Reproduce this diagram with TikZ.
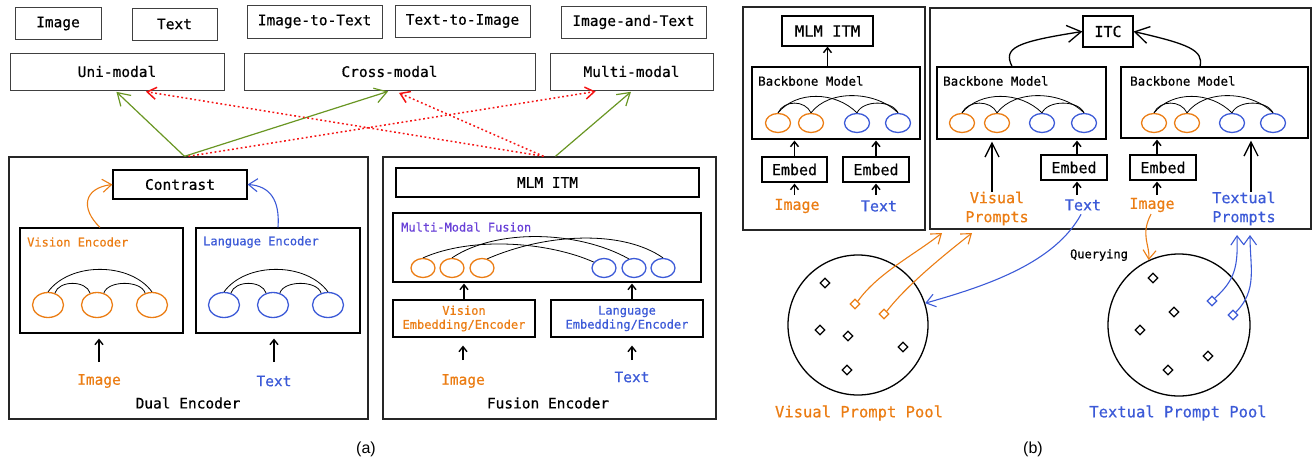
\documentclass[tikz,border=0pt]{standalone}
\usepackage{fontspec}
\setmonofont[FakeBold=0.6]{DejaVu Sans Mono}
\setsansfont{Liberation Sans}
\usetikzlibrary{arrows.meta,shapes.geometric}
\definecolor{cOr}{RGB}{235,125,20}
\definecolor{cBl}{RGB}{60,90,215}
\definecolor{cPu}{RGB}{105,65,215}
\definecolor{cGr}{RGB}{105,150,35}
\definecolor{cRd}{RGB}{245,20,20}
\begin{document}
\begin{tikzpicture}[x=1pt,y=-1pt,
  tbox/.style={draw=black!75, line width=1pt, rectangle, inner sep=0pt, font=\ttfamily\fontsize{14.5}{16}\selectfont},
  bx/.style={draw, line width=1.2pt, rectangle, inner sep=0pt, font=\ttfamily\fontsize{14.5}{16}\selectfont},
  outer/.style={draw=black!85, line width=1.4pt, rectangle, inner sep=0pt},
  lbl/.style={font=\ttfamily\fontsize{14.5}{16}\selectfont, inner sep=0pt},
  blbl/.style={font=\ttfamily\fontsize{15}{19}\selectfont, inner sep=0pt, align=center},
  slbl/.style={font=\ttfamily\fontsize{12}{14}\selectfont, inner sep=0pt, anchor=west},
  tok/.style={ellipse, draw, line width=1.3pt, inner sep=0pt},
  tokO/.style={tok, draw=cOr},
  tokB/.style={tok, draw=cBl},
  link/.style={line width=0.8pt},
  arr/.style={line width=1.4pt, -{Straight Barb[length=5pt,width=8pt]}},
  bigarr/.style={line width=1.3pt, -{Straight Barb[length=14pt,width=14pt]}},
  itcarr/.style={line width=1.3pt, -{Straight Barb[length=14pt,width=17pt]}},
  garr/.style={cGr, line width=1.2pt, -{Straight Barb[length=12pt,width=15pt]}},
  rarr/.style={cRd, line width=1.5pt, dash pattern=on 1.8pt off 2.6pt, -{Straight Barb[length=9pt,width=12pt]}},
  oarr/.style={cOr, line width=1.1pt, -{Straight Barb[length=9pt,width=13pt]}},
  barr/.style={cBl, line width=1.1pt, -{Straight Barb[length=9pt,width=13pt]}},
  dia/.style={diamond, draw, line width=1.2pt, inner sep=0pt, minimum width=10pt, minimum height=10pt},
]
\useasboundingbox (0,0) rectangle (1312,461);

% ---------------- panel (a): top rows
\node[tbox, minimum width=86, minimum height=32] (tImg) at (58,23.5) {Image};
\node[tbox, minimum width=85, minimum height=32] (tTxt) at (174.5,24) {Text};
\node[tbox, minimum width=135, minimum height=33] (tI2T) at (314.5,21.5) {Image-to-Text};
\node[tbox, minimum width=135, minimum height=32] (tT2I) at (462.5,21) {Text-to-Image};
\node[tbox, minimum width=145, minimum height=32] (tIaT) at (633.5,22) {Image-and-Text};
\node[tbox, minimum width=214, minimum height=37] (uni) at (117,71.5) {Uni-modal};
\node[tbox, minimum width=291, minimum height=37] (cross) at (389.5,71.5) {Cross-modal};
\node[tbox, minimum width=163, minimum height=37] (multi) at (631.5,71.5) {Multi-modal};

% ---------------- Dual encoder
\node[outer, minimum width=359, minimum height=262] (dual) at (188.5,288) {};
\node[bx, minimum width=134, minimum height=29] (contrast) at (180,184.5) {Contrast};
\node[bx, minimum width=163, minimum height=105] (venc) at (101.5,280.5) {};
\node[slbl, text=cOr] (vencL) at (27,242) {Vision Encoder};
\node[bx, minimum width=164, minimum height=105] (lenc) at (278,280.5) {};
\node[slbl, text=cBl] (lencL) at (203,242) {Language Encoder};
\node[tokO, minimum width=31, minimum height=25] (v1) at (48,305) {};
\node[tokO, minimum width=31, minimum height=25] (v2) at (97,305) {};
\node[tokO, minimum width=31, minimum height=25] (v3) at (152,305) {};
\node[tokB, minimum width=31, minimum height=25] (l1) at (224,305) {};
\node[tokB, minimum width=31, minimum height=25] (l2) at (273,305) {};
\node[tokB, minimum width=31, minimum height=25] (l3) at (328,305) {};
\foreach \p in {v,l}{
  \draw[link] (\p1.north) .. controls +(22,-30) and +(-22,-30) .. (\p3.north);
  \draw[link] (\p1.60) .. controls +(4,-13) and +(-4,-13) .. (\p2.120);
  \draw[link] (\p2.60) .. controls +(4,-13) and +(-4,-13) .. (\p3.120);
}
\node[lbl, text=cOr] (dImg) at (99,381) {Image};
\node[lbl, text=cBl] (dTxt) at (274,381) {Text};
\node[lbl] (dualL) at (188,403) {Dual Encoder};
\draw[arr, shorten <=19pt, shorten >=5pt] (dImg.center) -- (dImg |- venc.south);
\draw[arr, shorten <=19pt, shorten >=5pt] (dTxt.center) -- (dTxt |- lenc.south);
\draw[oarr] ([xshift=-1.5pt]venc.north) .. controls (80,208) and (84,188) .. (contrast.west);
\draw[barr] (lenc.north) .. controls (280,200) and (270,186) .. (contrast.east);

% ---------------- Fusion encoder
\node[outer, minimum width=333, minimum height=262] (fusion) at (549.5,288) {};
\node[bx, minimum width=303, minimum height=29] (mlmA) at (547.5,182.5) {MLM ITM};
\node[bx, minimum width=308, minimum height=69] (mmf) at (547,247.5) {};
\node[slbl, text=cPu] (mmfL) at (401,227) {Multi-Modal Fusion};
\node[tokO, minimum width=24, minimum height=19] (fo1) at (423,268) {};
\node[tokO, minimum width=24, minimum height=19] (fo2) at (452,268) {};
\node[tokO, minimum width=24, minimum height=19] (fo3) at (482,268) {};
\node[tokB, minimum width=24, minimum height=19] (fb1) at (604,268) {};
\node[tokB, minimum width=24, minimum height=19] (fb2) at (634,268) {};
\node[tokB, minimum width=24, minimum height=19] (fb3) at (663,268) {};
\draw[link] (fo1.north) .. controls +(50,-22) and +(-45,-20) .. (fb1.150);
\draw[link] (fo2.north) .. controls +(45,-30) and +(-50,-28) .. (fb2.120);
\draw[link] (fo3.60) .. controls +(60,-26) and +(-40,-28) .. (fb3.north);
\node[bx, minimum width=142, minimum height=37, text=cOr, align=center, font=\ttfamily\fontsize{12}{14}\selectfont] (vemb) at (464,318.5) {Vision\\Embedding/Encoder};
\node[bx, minimum width=152, minimum height=37, text=cBl, align=center, font=\ttfamily\fontsize{12}{14}\selectfont] (lemb) at (627,318.5) {Language\\Embedding/Encoder};
\coordinate (lembT) at ([xshift=5pt]lemb.north);
\draw[arr, shorten >=1pt] (vemb.north) -- (vemb.north |- mmf.south);
\draw[arr, shorten >=1pt] (lembT) -- (lembT |- mmf.south);
\node[lbl, text=cOr] (fImg) at (463,381) {Image};
\node[lbl, text=cBl] (fTxt) at (632,377) {Text};
\node[lbl] (fusL) at (548,403) {Fusion Encoder};
\draw[arr, shorten <=21pt, shorten >=8pt] (fImg.center) -- (fImg |- vemb.south);
\draw[arr, shorten <=17pt, shorten >=8pt] (fTxt.center) -- (fTxt |- lemb.south);

% ---------------- green / red connectors
\draw[garr, shorten >=2pt] ([xshift=-4pt]dual.north) -- ([xshift=-2pt]uni.south);
\draw[garr, shorten >=3pt] ([xshift=-4pt]dual.north) -- ([xshift=1.5pt]cross.south);
\draw[garr, shorten >=2pt] ([xshift=6pt]fusion.north) -- ([xshift=1pt]multi.south);
\draw[rarr, shorten >=6pt] ([xshift=0pt]dual.north) -- ([xshift=-30pt]multi.south);
\draw[rarr, shorten >=7pt] ([xshift=-6pt]fusion.north) -- ([xshift=22pt]uni.south);
\draw[rarr, shorten >=6pt] ([xshift=-6pt]fusion.north) -- ([xshift=4pt]cross.south);

\node[font=\sffamily\fontsize{16}{18}\selectfont, inner sep=0pt] (capA) at (366,449) {(a)};

% ---------------- panel (b): left box
\node[outer, minimum width=182, minimum height=223] (leftB) at (834,118.5) {};
\node[bx, minimum width=91, minimum height=30, font=\ttfamily\fontsize{15.5}{17}\selectfont] (mlmB) at (827.5,31) {MLM ITM};
\node[bx, minimum width=168, minimum height=72] (bb0) at (836,103) {};
\node[slbl, font=\ttfamily\fontsize{12.5}{14}\selectfont] (bb0L) at (758,81) {Backbone Model};
\node[bx, minimum width=65, minimum height=25, font=\ttfamily\fontsize{15}{17}\selectfont] (e1) at (794.5,169.5) {Embed};
\node[bx, minimum width=66, minimum height=25, font=\ttfamily\fontsize{15}{17}\selectfont] (e2) at (876,169.5) {Embed};
\node[blbl, text=cOr] (bImg1) at (797,206) {Image};
\node[blbl, text=cBl] (bTxt1) at (879,206) {Text};
\draw[arr] (bb0.north -| mlmB) -- (mlmB.south);
\draw[arr, shorten >=1pt] (e1.north) -- (e1.north |- bb0.south);
\draw[arr, shorten >=1pt] (e2.north) -- (e2.north |- bb0.south);
\draw[arr, shorten <=11pt, shorten >=1pt] (e1 |- bImg1.center) -- (e1.south);
\draw[arr, shorten <=11pt, shorten >=1pt] (e2 |- bTxt1.center) -- (e2.south);

% ---------------- panel (b): right box
\node[outer, minimum width=381, minimum height=221] (rightB) at (1120.5,118.5) {};
\node[bx, minimum width=50, minimum height=31, font=\ttfamily\fontsize{15}{17}\selectfont] (itc) at (1108,31.5) {ITC};
\node[bx, minimum width=169, minimum height=72] (bb1) at (1021.5,103) {};
\node[slbl, font=\ttfamily\fontsize{12.5}{14}\selectfont] (bb1L) at (943,81) {Backbone Model};
\node[bx, minimum width=187, minimum height=71] (bb2) at (1214.5,102.5) {};
\node[slbl, font=\ttfamily\fontsize{12.5}{14}\selectfont] (bb2L) at (1130,81) {Backbone Model};
\node[bx, minimum width=66, minimum height=25, font=\ttfamily\fontsize{15}{17}\selectfont] (e3) at (1074,167.5) {Embed};
\node[bx, minimum width=66, minimum height=25, font=\ttfamily\fontsize{15}{17}\selectfont] (e4) at (1163,167.5) {Embed};
\node[blbl, text=cBl] (bTxt2) at (1083,205) {Text};
\node[blbl, text=cOr] (bImg2) at (1152,205) {Image};
\node[blbl, text=cOr] (vp) at (997,208.5) {Visual\\Prompts};
\node[blbl, text=cBl] (tp) at (1244,208.5) {Textual\\Prompts};

% tokens in backbones
\foreach \p/\xa/\xb/\xc/\xd in {a/778/811/857/898, b/962/997/1042/1084, c/1154/1187/1232/1273}{
  \node[tokO, minimum width=25, minimum height=19] (\p1) at (\xa,123) {};
  \node[tokO, minimum width=25, minimum height=19] (\p2) at (\xb,123) {};
  \node[tokB, minimum width=25, minimum height=19] (\p3) at (\xc,123) {};
  \node[tokB, minimum width=25, minimum height=19] (\p4) at (\xd,123) {};
  \draw[link] (\p1.north) .. controls +(6,-13) and +(-6,-13) .. (\p2.north);
  \draw[link] (\p1.north) .. controls +(18,-22) and +(-22,-22) .. (\p3.north);
  \draw[link] (\p2.north) .. controls +(18,-24) and +(-22,-22) .. (\p4.north);
  \draw[link] (\p3.north) .. controls +(6,-13) and +(-6,-13) .. (\p4.north);
}

\coordinate (e3B) at (1077,167.5);
\coordinate (e4B) at (1157,167.5);
\draw[arr, shorten >=1pt] (e3B |- e3.north) -- (e3B |- bb1.south);
\draw[arr, shorten >=1pt] (e4B |- e4.north) -- (e4B |- bb2.south);
\draw[arr, shorten <=10pt, shorten >=1pt] (e3B |- bTxt2.center) -- (e3B |- e3.south);
\draw[arr, shorten <=10pt, shorten >=1pt] (e4B |- bImg2.center) -- (e4B |- e4.south);
\coordinate (vpT) at ([xshift=-5pt]vp.north);
\coordinate (tpT) at ([xshift=7pt]tp.north);
\draw[bigarr, shorten >=2pt] (vpT) -- (vpT |- bb1.south);
\draw[bigarr, shorten >=2pt] (tpT) -- (tpT |- bb2.south);
\draw[itcarr] ([xshift=-9.5pt]bb1.north) .. controls (1003,48) and (1015,42) .. (itc.west);
\draw[itcarr] ([xshift=-14.5pt]bb2.north) .. controls (1204,50) and (1188,44) .. (itc.east);

% ---------------- prompt pools
\node[circle, draw, line width=1.3pt, minimum size=140pt, inner sep=0pt] (vpool) at (858,325) {};
\node[circle, draw, line width=1.3pt, minimum size=142pt, inner sep=0pt] (tpool) at (1179,325) {};
\node[dia] (vd1) at (825,283) {};
\node[dia] (vd2) at (820,330) {};
\node[dia] (vd3) at (848,336) {};
\node[dia] (vd4) at (903,347) {};
\node[dia] (vd5) at (847,370) {};
\node[dia, draw=cOr] (od1) at (855,304) {};
\node[dia, draw=cOr] (od2) at (884,314) {};
\node[dia] (td1) at (1153,278) {};
\node[dia] (td2) at (1174,312) {};
\node[dia] (td3) at (1140,330) {};
\node[dia] (td4) at (1208,356) {};
\node[dia] (td5) at (1168,370) {};
\node[dia, draw=cBl] (bd1) at (1212,301) {};
\node[dia, draw=cBl] (bd2) at (1233,315) {};

\coordinate (vpIn1) at (942,233);
\coordinate (vpIn2) at (972,233);
\coordinate (tpIn1) at (1237,235);
\coordinate (tpIn2) at (1250,235);
\draw[oarr] (od1.north east) .. controls +(20,-28) and +(-28,22) .. (vpIn1);
\draw[oarr] (od2.north east) .. controls +(20,-26) and +(-28,22) .. (vpIn2);
\draw[barr] (bd1.north east) .. controls +(20,-18) and +(1,32) .. (tpIn1);
\draw[barr] (bd2.north east) .. controls +(22,-22) and +(0,32) .. (tpIn2);
\draw[barr, shorten <=4pt] (bTxt2.south) .. controls (1055,262) and (990,285) .. (vpool.18);
\draw[oarr, shorten <=2pt] (bImg2.south) .. controls (1140,235) and (1150,245) .. (tpool.115);
\node[font=\ttfamily\fontsize{12}{14}\selectfont, inner sep=0pt] (query) at (1099,255) {Querying};

\node[font=\ttfamily\fontsize{15.5}{17}\selectfont, text=cOr, inner sep=0pt] (vpoolL) at (859,413) {Visual Prompt Pool};
\node[font=\ttfamily\fontsize{15.5}{17}\selectfont, text=cBl, inner sep=0pt] (tpoolL) at (1178,413) {Textual Prompt Pool};
\node[font=\sffamily\fontsize{16}{18}\selectfont, inner sep=0pt] (capB) at (1033,449) {(b)};
\end{tikzpicture}
\end{document}
